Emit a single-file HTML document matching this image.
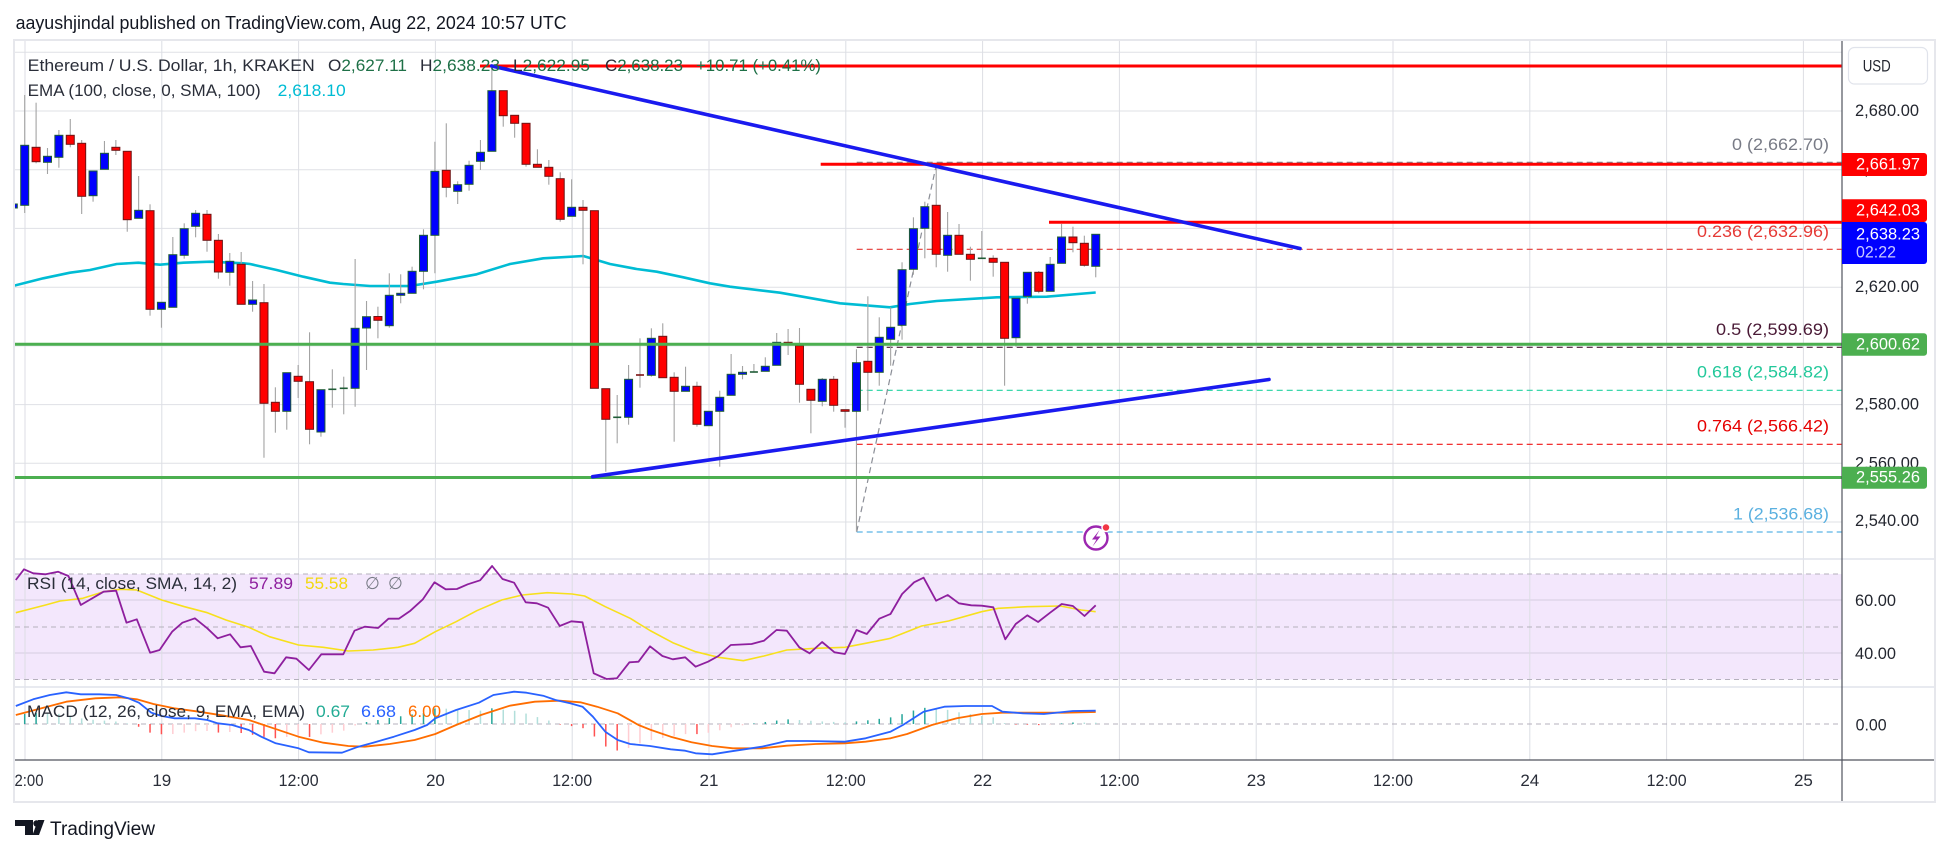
<!DOCTYPE html>
<html><head><meta charset="utf-8">
<style>
html,body{margin:0;padding:0;background:#fff;}
svg{display:block;font-family:"Liberation Sans",sans-serif;}
</style></head>
<body>
<svg id="s" width="1950" height="855" viewBox="0 0 1950 855" xmlns="http://www.w3.org/2000/svg">
<defs>
<clipPath id="cm"><rect x="15" y="41" width="1827" height="518"/></clipPath>
<clipPath id="cl"><rect x="15" y="559" width="1827" height="201"/></clipPath>
</defs>
<rect width="1950" height="855" fill="#fff"/>
<rect x="15" y="574" width="1827" height="105.5" fill="#f3e7fc"/>
<g stroke="#dfe1e6" stroke-width="1">
<line x1="15" x2="1842" y1="52.3" y2="52.3"/>
<line x1="15" x2="1842" y1="111" y2="111"/>
<line x1="15" x2="1842" y1="169.7" y2="169.7"/>
<line x1="15" x2="1842" y1="228.4" y2="228.4"/>
<line x1="15" x2="1842" y1="287.2" y2="287.2"/>
<line x1="15" x2="1842" y1="345.9" y2="345.9"/>
<line x1="15" x2="1842" y1="404.6" y2="404.6"/>
<line x1="15" x2="1842" y1="463.3" y2="463.3"/>
<line x1="15" x2="1842" y1="522" y2="522"/>
</g>
<g stroke="#d6cde0" stroke-width="1">
<line x1="15" x2="1842" y1="600" y2="600"/>
<line x1="15" x2="1842" y1="653" y2="653"/>
</g>
<g stroke="#dcdee4" stroke-width="1">
<line x1="25" x2="25" y1="41" y2="760"/>
<line x1="161.8" x2="161.8" y1="41" y2="760"/>
<line x1="298.6" x2="298.6" y1="41" y2="760"/>
<line x1="435.4" x2="435.4" y1="41" y2="760"/>
<line x1="572.2" x2="572.2" y1="41" y2="760"/>
<line x1="709" x2="709" y1="41" y2="760"/>
<line x1="845.8" x2="845.8" y1="41" y2="760"/>
<line x1="982.6" x2="982.6" y1="41" y2="760"/>
<line x1="1119.4" x2="1119.4" y1="41" y2="760"/>
<line x1="1256.2" x2="1256.2" y1="41" y2="760"/>
<line x1="1393" x2="1393" y1="41" y2="760"/>
<line x1="1529.8" x2="1529.8" y1="41" y2="760"/>
<line x1="1666.6" x2="1666.6" y1="41" y2="760"/>
<line x1="1803.4" x2="1803.4" y1="41" y2="760"/>
</g>
<g stroke="#b5b0bd" stroke-width="1" stroke-dasharray="5,4">
<line x1="15" x2="1842" y1="574" y2="574"/>
<line x1="15" x2="1842" y1="627" y2="627"/>
<line x1="15" x2="1842" y1="679.5" y2="679.5"/>
<line x1="15" x2="1842" y1="724" y2="724"/>
</g>
<g stroke="#e0e3eb" stroke-width="1.5">
<line x1="15" x2="1935" y1="559" y2="559"/>
<line x1="15" x2="1935" y1="687" y2="687"/>
</g>

<g stroke-width="1.2" stroke-dasharray="6,4" fill="none">
<line x1="856.7" x2="1842" y1="162.3" y2="162.3" stroke="#787b86"/>
<line x1="856.7" x2="1842" y1="249.3" y2="249.3" stroke="#e53935"/>
<line x1="856.7" x2="1842" y1="347.3" y2="347.3" stroke="#4a1a36"/>
<line x1="856.7" x2="1842" y1="390.3" y2="390.3" stroke="#22d3a0"/>
<line x1="856.7" x2="1842" y1="444.3" y2="444.3" stroke="#f01515"/>
<line x1="856.7" x2="1842" y1="532" y2="532" stroke="#5ab4e5"/>
<line x1="856.7" x2="936.5" y1="531.7" y2="164" stroke="#8a8d96"/>
</g>

<g clip-path="url(#cm)">
<polyline fill="none" stroke="#00bcd4" stroke-width="2.6" stroke-linejoin="round" points="10,286.7 43.3,278.3 70,272.7 90,270 116.7,264 138.3,262.7 160,264.7 183.3,262.7 210,261.7 243.3,263.3 250,264 276.7,270 303.3,276.7 330,282.7 343.3,284 370,286 410,286 436.7,281.7 476.7,274.3 510,264 543.3,258.3 583.3,256 610,264 636.7,269 656.7,271.7 683.3,277.3 710,283.3 730,286.7 780,292.7 840,303.3 890,307.3 910,304 936.7,301 996.7,297.3 1046.7,296.7 1095.7,292.5"/>
<g id="candles"></g>
</g>

<g clip-path="url(#cm)">
<line x1="15" x2="1842" y1="344.3" y2="344.3" stroke="#4caf50" stroke-width="3"/>
<line x1="15" x2="1842" y1="477.5" y2="477.5" stroke="#4caf50" stroke-width="3"/>
<line x1="480" x2="1842" y1="66" y2="66" stroke="#ff0000" stroke-width="3"/>
<line x1="820.7" x2="1842" y1="164.3" y2="164.3" stroke="#ff0000" stroke-width="3"/>
<line x1="1049" x2="1842" y1="222.3" y2="222.3" stroke="#ff0000" stroke-width="3"/>
<line x1="491.7" y1="66" x2="1300" y2="248.5" stroke="#1a1aef" stroke-width="3.6" stroke-linecap="round"/>
<line x1="592.7" y1="476.7" x2="1269" y2="379.5" stroke="#1a1aef" stroke-width="3.6" stroke-linecap="round"/>
</g>

<g font-size="17" text-anchor="end">
<text x="1829" y="150" fill="#787b86" textLength="97" lengthAdjust="spacingAndGlyphs">0 (2,662.70)</text>
<text x="1829" y="237" fill="#e53935" textLength="132" lengthAdjust="spacingAndGlyphs">0.236 (2,632.96)</text>
<text x="1829" y="335" fill="#4a1a36" textLength="113" lengthAdjust="spacingAndGlyphs">0.5 (2,599.69)</text>
<text x="1829" y="377.7" fill="#22c89a" textLength="132" lengthAdjust="spacingAndGlyphs">0.618 (2,584.82)</text>
<text x="1829" y="431.7" fill="#e60000" textLength="132" lengthAdjust="spacingAndGlyphs">0.764 (2,566.42)</text>
<text x="1829" y="519.7" fill="#5ab0e0" textLength="96" lengthAdjust="spacingAndGlyphs">1 (2,536.68)</text>
</g>

<g font-size="17" fill="#2a2e39">
<text x="27.7" y="71" textLength="287" lengthAdjust="spacingAndGlyphs">Ethereum / U.S. Dollar, 1h, KRAKEN</text>
<text x="328" y="71" textLength="79" lengthAdjust="spacingAndGlyphs">O<tspan fill="#1e7047">2,627.11</tspan></text>
<text x="420" y="71" textLength="80" lengthAdjust="spacingAndGlyphs">H<tspan fill="#1e7047">2,638.23</tspan></text>
<text x="513" y="71" textLength="77" lengthAdjust="spacingAndGlyphs">L<tspan fill="#1e7047">2,622.95</tspan></text>
<text x="605" y="71" textLength="78" lengthAdjust="spacingAndGlyphs">C<tspan fill="#1e7047">2,638.23</tspan></text>
<text x="696" y="71" textLength="125" lengthAdjust="spacingAndGlyphs" fill="#1e7047">+10.71 (+0.41%)</text>
<text x="27.7" y="96" textLength="233" lengthAdjust="spacingAndGlyphs">EMA (100, close, 0, SMA, 100)</text>
<text x="277.7" y="96" textLength="68" lengthAdjust="spacingAndGlyphs" fill="#00bcd4">2,618.10</text>
</g>

<g clip-path="url(#cl)" fill="none" stroke-linejoin="round">
<g id="hist"></g>
<polyline id="rsma" stroke="#f7e01c" stroke-width="1.6" points="15.8,612.7 45.6,605 60.1,601 82.9,598.3 103.6,591.7 120.2,589.3 136.8,590 161.7,600 184.5,606.7 207.3,612.7 226,620 248.8,627.3 269.5,636.7 298.5,645 323.4,647.3 348.3,651 373.1,650 398,647.3 414.6,643.3 435.3,631.7 456.1,621.7 476.8,610.7 501.7,600 522.4,595 547.3,592.7 572.1,594 584.6,596 605.3,606.7 630.2,618.3 650,630.5 672.8,642.7 695.6,651.7 718.4,657.3 743.3,660.7 764,656 786.8,650 815.8,648.3 844.9,647.3 865.6,643.3 890.5,638.3 921.6,626 948.5,621 981.7,611.7 998.3,608.3 1027.3,606.7 1060.4,606 1081.2,610 1095.7,611.7"/>
<polyline id="rsi" stroke="#8e1f9e" stroke-width="1.8" points="15.8,580 24,569.3 33.2,573.3 45.6,574.3 58,571.7 68.4,576 80.8,605 103.6,591.7 116.1,590.7 126.5,622.7 136.8,619.3 150.1,652.7 159.6,650 172.1,631.7 182.4,622.7 194.9,618.3 207.3,628.3 217.7,638.3 230.1,634.3 240.5,647.3 250.8,646 264.1,671.7 274.5,673.3 286.1,657.3 296.4,658.7 308.9,670 321.3,654.3 343.3,654.3 354.5,630.7 364.8,626.7 378.1,628 388.5,618.7 398.8,618.7 410.4,610.7 422.9,599.3 434.5,582.3 445.7,589.3 456.9,589 467.7,584.3 480.1,580.3 492.1,566 502.5,579 514.1,582.7 525.7,602.3 536.9,603.3 548.1,607.7 559.7,626 571.3,621.3 582.5,622.3 593.7,673.3 606.5,679 616.9,678.3 629.4,662.3 638.5,661.7 650,646.3 662.4,656 672.8,659.3 685.2,657.3 695.6,666.7 708,661.7 718.4,656 730.8,645 751.6,644 764,640.7 776.5,630 786.8,630.7 799.3,647.3 809.6,653.3 822.1,642 834.5,652.3 844.9,654 856.5,630 866.8,634 879.3,618.7 890.5,614 902.1,594 914.1,582.3 923.6,577.7 936.1,600.7 947.7,595 958.9,603.3 971.3,605.3 981.7,605.7 993.3,607.3 1005.3,639.3 1015.7,624 1027.3,615.3 1038.1,622 1050.1,612.7 1061.7,604 1072.9,606 1084.5,616 1095.7,605.3"/>
<polyline id="sig" stroke="#ff6d00" stroke-width="1.8" points="15.8,715 41.5,708.3 66.3,701.7 95.4,698.3 120.2,697.3 136.8,699.3 153.4,704 174.1,708.3 199,711.7 223.9,715.7 248.8,720 273.6,728.3 298.5,736.7 323.4,742.7 348.3,746 364.8,746.7 389.7,744 414.6,740 435.3,734 456.1,725 481,715 509.9,705.7 534.8,701.7 559.7,700.7 580.4,702.3 597,706.7 617.7,713.3 638.5,725 650,729.6 670.7,736.7 691.5,742.3 712.2,746 732.9,748.3 761.9,748.3 786.8,745.7 815.8,744 844.9,743.3 865.6,741.7 890.5,738.3 907.1,734 931.9,725 956.8,718.3 981.7,714 1002.4,712.7 1064.6,712.7 1095.7,712"/>
<polyline id="macd" stroke="#2962ff" stroke-width="1.8" points="15.8,706 33.2,699.3 49.8,695 66.3,692.3 80.8,694.3 99.5,694.3 116.1,695 128.5,698.3 138.9,702.7 151.3,712.7 161.7,716 174.1,718.3 194.9,718.3 207.3,720 217.7,723.3 232.2,725 248.8,730 261.2,736.7 275.7,743.3 298.5,748.3 308.9,752.3 342,752.7 356.6,747.3 373.1,742.7 393.9,736.7 414.6,730 427.1,725 435.3,718.3 456.1,710 478.9,702.7 493.4,695 514.1,691.7 526.5,692.7 543.1,695.7 555.5,700 570.1,703.3 582.5,706.7 592.9,716.7 605.3,731.7 617.7,740 630.2,744 650,746 670.7,749.3 685.2,750.7 695.6,753.3 712.2,754.3 728.8,751.7 761.9,746.7 786.8,741 807.5,741 844.9,741.7 865.6,738.3 890.5,731.7 902.9,725 923.6,711.7 944.4,706.7 965.1,706 992,706 1002.4,711.7 1023.1,713.3 1043.9,714 1072.9,711 1095.7,710.7"/>
</g>

<g font-size="17" fill="#2a2e39">
<text x="27" y="589" textLength="210" lengthAdjust="spacingAndGlyphs">RSI (14, close, SMA, 14, 2)</text>
<text x="249" y="589" textLength="44" lengthAdjust="spacingAndGlyphs" fill="#8e1f9e">57.89</text>
<text x="305" y="589" textLength="43" lengthAdjust="spacingAndGlyphs" fill="#f2d80f">55.58</text>
<text x="365" y="589" fill="#787b86">∅</text>
<text x="388" y="589" fill="#787b86">∅</text>
<text x="27" y="717" textLength="278" lengthAdjust="spacingAndGlyphs">MACD (12, 26, close, 9, EMA, EMA)</text>
<text x="316" y="717" textLength="34" lengthAdjust="spacingAndGlyphs" fill="#22ab94">0.67</text>
<text x="361" y="717" textLength="35" lengthAdjust="spacingAndGlyphs" fill="#2962ff">6.68</text>
<text x="408" y="717" textLength="33" lengthAdjust="spacingAndGlyphs" fill="#ff6d00">6.00</text>
</g>

<line x1="15" x2="1935" y1="760" y2="760" stroke="#50535e" stroke-width="1.2"/>
<line x1="1842" x2="1842" y1="41" y2="802" stroke="#50535e" stroke-width="1.2"/>

<g font-size="17" fill="#23262f">
<text x="1855" y="116" textLength="64" lengthAdjust="spacingAndGlyphs">2,680.00</text>
<text x="1855" y="174.7" textLength="64" lengthAdjust="spacingAndGlyphs">2,660.00</text>
<text x="1855" y="292" textLength="64" lengthAdjust="spacingAndGlyphs">2,620.00</text>
<text x="1855" y="409.3" textLength="64" lengthAdjust="spacingAndGlyphs">2,580.00</text>
<text x="1855" y="468.3" textLength="64" lengthAdjust="spacingAndGlyphs">2,560.00</text>
<text x="1855" y="526" textLength="64" lengthAdjust="spacingAndGlyphs">2,540.00</text>
<text x="1855" y="606" textLength="41" lengthAdjust="spacingAndGlyphs">60.00</text>
<text x="1855" y="659" textLength="41" lengthAdjust="spacingAndGlyphs">40.00</text>
<text x="1855.6" y="730.3" textLength="31" lengthAdjust="spacingAndGlyphs">0.00</text>
</g>
<rect x="1848.5" y="47.5" width="79" height="36.5" rx="6" fill="#fff" stroke="#e0e3eb" stroke-width="1.2"/>
<text x="1862.7" y="71.7" font-size="17" fill="#23262f" textLength="28" lengthAdjust="spacingAndGlyphs">USD</text>
<g font-size="17" fill="#fff">
<path d="M1842,153 H1924 a3,3 0 0 1 3,3 V173 a3,3 0 0 1 -3,3 H1842 Z" fill="#ff0000"/>
<text x="1856" y="169.3" textLength="64" lengthAdjust="spacingAndGlyphs">2,661.97</text>
<path d="M1842,199.3 H1924 a3,3 0 0 1 3,3 V219 a3,3 0 0 1 -3,3 H1842 Z" fill="#ff0000"/>
<text x="1856" y="215.3" textLength="64" lengthAdjust="spacingAndGlyphs">2,642.03</text>
<path d="M1842,222 H1924 a3,3 0 0 1 3,3 V261 a3,3 0 0 1 -3,3 H1842 Z" fill="#0000ff"/>
<text x="1856" y="239.3" textLength="64" lengthAdjust="spacingAndGlyphs">2,638.23</text>
<text x="1856" y="257.7" textLength="40" lengthAdjust="spacingAndGlyphs" fill="#c9c9ff">02:22</text>
<path d="M1842,333.3 H1924 a3,3 0 0 1 3,3 V352.7 a3,3 0 0 1 -3,3 H1842 Z" fill="#4caf50"/>
<text x="1856" y="349.3" textLength="64" lengthAdjust="spacingAndGlyphs">2,600.62</text>
<path d="M1842,466.7 H1924 a3,3 0 0 1 3,3 V485.7 a3,3 0 0 1 -3,3 H1842 Z" fill="#4caf50"/>
<text x="1856" y="482.7" textLength="64" lengthAdjust="spacingAndGlyphs">2,555.26</text>
</g>

<g font-size="17" fill="#2a2e39" text-anchor="middle">
<text x="29" y="786" textLength="29" lengthAdjust="spacingAndGlyphs">2:00</text>
<text x="161.8" y="786">19</text>
<text x="298.6" y="786" textLength="40" lengthAdjust="spacingAndGlyphs">12:00</text>
<text x="435.4" y="786">20</text>
<text x="572.2" y="786" textLength="40" lengthAdjust="spacingAndGlyphs">12:00</text>
<text x="709" y="786">21</text>
<text x="845.8" y="786" textLength="40" lengthAdjust="spacingAndGlyphs">12:00</text>
<text x="982.6" y="786">22</text>
<text x="1119.4" y="786" textLength="40" lengthAdjust="spacingAndGlyphs">12:00</text>
<text x="1256.2" y="786">23</text>
<text x="1393" y="786" textLength="40" lengthAdjust="spacingAndGlyphs">12:00</text>
<text x="1529.8" y="786">24</text>
<text x="1666.6" y="786" textLength="40" lengthAdjust="spacingAndGlyphs">12:00</text>
<text x="1803.4" y="786">25</text>
</g>

<rect x="14" y="40" width="1921" height="762" fill="none" stroke="#e6e7ec" stroke-width="2"/>

<text x="15.6" y="29" font-size="18" fill="#131722" textLength="551" lengthAdjust="spacingAndGlyphs">aayushjindal published on TradingView.com, Aug 22, 2024 10:57 UTC</text>

<g fill="#131722">
<path d="M15,820 H33 V835 H25 V826 H15 Z"/>
<circle cx="36.5" cy="823.5" r="3.2"/>
<path d="M38,820 H44.5 L39,835 H32.5 Z"/>
</g>
<text x="50" y="835" font-size="19" fill="#131722" textLength="105" lengthAdjust="spacingAndGlyphs">TradingView</text>

<circle cx="1096" cy="538" r="11.5" fill="#fff" stroke="#9c27b0" stroke-width="2.4"/>
<path d="M1099.5,530 L1092,539.5 H1096.5 L1092.5,546.5 L1100.5,536.5 H1096 Z" fill="#9c27b0"/>
<circle cx="1106" cy="527.5" r="4" fill="#f23645" stroke="#fff" stroke-width="1.5"/>
</svg>

<script>
(function(){
var NS='http://www.w3.org/2000/svg';
function el(t,a,p){var e=document.createElementNS(NS,t);for(var k in a)e.setAttribute(k,a[k]);p.appendChild(e);return e;}
var D=[
['b',145.3,205.3,95,213],['r',147.3,161.7,102.7,163.3],['b',156.3,162.3,148,174],['b',135.3,157.3,130,167.7],
['r',135.3,144.3,119,147.3],['r',143.3,196.3,140,214],['b',171,195.7,171,201.7],['b',153.3,169.3,141,169.3],
['r',147.3,150.3,140,155],['r',151.3,219.7,151.3,231.7],['b',210.3,218.3,176,218.3],['r',210.7,309.3,204.3,315.7],
['b',302.3,309.3,302.3,327.7],['b',254.7,307.3,237,307.3],['b',228.7,255.3,223.3,258.7],['b',213.3,226.3,210,237.3],
['r',214.3,240.3,210,251.7],['r',240.3,272,234,278.7],['b',261.3,272.3,253,285.7],['r',264.3,304.3,252,304.3],
['b',300,304.3,281,311.7],['r',302.7,403.3,284,457.7],['r',402.3,411.3,387.3,432.7],['b',372.7,411.3,372.7,429.7],
['r',376.3,381.3,365,398],['r',381.7,429.3,332.3,444.3],['b',389.7,432,389.7,436.7],['d',389.3,389.3,369.3,407.7],
['d',388.3,388.3,376.7,414.3],['b',328.3,388.3,259,406.7],['b',316.7,328,301,370],['r',316.5,320.3,306.7,338.3],
['b',295.3,325.7,273.3,327.7],['b',293.3,295.3,274.3,303.3],['b',271.3,293.3,266.7,293.3],['b',235.3,271.3,229.3,289.3],
['b',171.3,235.3,141.7,273.3],['r',170.3,187.3,123.3,197.3],['b',184.7,191.3,181.3,204],['b',165.3,184.3,160.7,190.7],
['b',152.3,161.3,140,170],['b',90.7,151.3,66.7,151.3],['r',90.7,115.7,90.7,126.7],['r',115.3,123.3,115.3,137.7],
['r',123.3,164.3,123.3,166.7],['r',164.3,167.3,149.3,167.3],['r',167.3,176.3,160,184.7],['r',178.7,219.3,172.3,221.7],
['b',207.3,216.3,179.3,216.3],['r',207.3,210.3,200,264.3],['r',210.7,388.3,210.7,388.3],['r',388.7,419.3,388.7,471.7],
['d',417.3,417.3,395,443.3],['b',379.3,417.3,365,424.7],['e',375,375,338.3,387.7],['b',338.3,375.3,328.3,376.7],
['r',336.3,377.7,323.3,377.7],['r',377.3,391.3,372.3,441.7],['b',386.3,391.3,366.7,391.3],['r',386.3,424.3,381.7,426.7],
['b',411.3,425.7,411.3,425.7],['b',397.3,411.3,390.7,466.7],['b',374.3,395.3,354,395.3],['b',372.3,374.3,366,379.3],
['d',372,372,364,372],['b',366.3,371.3,357.3,371.3],['b',342.3,365.3,333,365.3],['r',342.3,343.3,329,355],
['r',345.7,384.3,328,402.7],['r',389.3,400.3,389.3,433.3],['b',379.3,401.3,378,406.3],['r',379.3,405.3,376,411.7],
['r',409.7,411.3,409.7,427.7],['b',362.7,411.3,349.3,531.7],['r',361.3,372.3,296.3,410.7],['b',337.3,372.3,317.3,385.7],
['b',327.3,339.3,307.3,365.7],['b',269.7,325.3,262.3,339.7],['b',228.7,269.3,217.3,274.7],['b',206.7,228.3,201.7,258.3],
['r',205.3,254.3,166.7,267.3],['b',235.3,255.3,212,271.7],['r',235.3,254.3,224,254.3],['r',254.3,259.3,246.7,280.7],
['d',258.3,258.3,231,258.3],['r',258.3,262.3,255.3,276.7],['r',262.3,338.3,262.3,385.7],['b',298.3,337.7,298.3,346.7],
['b',272.3,296.3,272.3,303.7],['r',272.3,291.3,271,293.3],['b',264.3,291.3,257,291.3],['b',237,263.3,224,263.3],
['r',237,242.7,226.7,252.3],['r',243.3,265.3,235.7,266.7],['b',234.3,266.3,234.3,277.3]
];
var g=document.getElementById('candles');
function candle(x,d){
  var t=d[0];
  el('line',{x1:x,x2:x,y1:d[3],y2:d[4],stroke:'#a3a3a3','stroke-width':1.1},g);
  if(t==='d'||t==='e'){
    el('line',{x1:x-4,x2:x+4,y1:d[1],y2:d[1],stroke:t==='d'?'#1f5c36':'#7b1111','stroke-width':1.6},g);
  } else {
    var h=Math.max(d[2]-d[1],1.5);
    el('rect',{x:x-4,y:d[1],width:8,height:h,fill:t==='b'?'#0000ff':'#ff0000',stroke:t==='b'?'#1f5c36':'#6e1414','stroke-width':1},g);
  }
}
candle(24.7-11.394,['b',204,208,200,212]);
for(var i=0;i<D.length;i++){candle(24.7+i*11.394,D[i]);}
function parse(id){return document.getElementById(id).getAttribute('points').trim().split(/\s+/).map(function(p){return p.split(',').map(Number);});}
function interp(P,x){if(x<=P[0][0])return P[0][1];for(var k=1;k<P.length;k++){if(x<=P[k][0]){var a=P[k-1],b=P[k];return a[1]+(b[1]-a[1])*(x-a[0])/(b[0]-a[0]);}}return P[P.length-1][1];}
var M=parse('macd'),S=parse('sig'),hg=document.getElementById('hist');
var prev=null;
for(var j=-1;j<95;j++){
  var x=24.7+j*11.394; if(x<15)continue;
  var hv=interp(S,x)-interp(M,x);
  var c;
  if(hv>=0){c=(prev===null||hv>=prev)?'#26a69a':'#b2dfdb';}
  else{c=(prev===null||hv<=prev)?'#ff5252':'#ffcdd2';}
  var ah=Math.max(Math.abs(hv),0.6);
  el('rect',{x:x-0.75,y:hv>=0?724-ah:724,width:1.5,height:ah,fill:c},hg);
  prev=hv;
}
})();
</script>
</body></html>
